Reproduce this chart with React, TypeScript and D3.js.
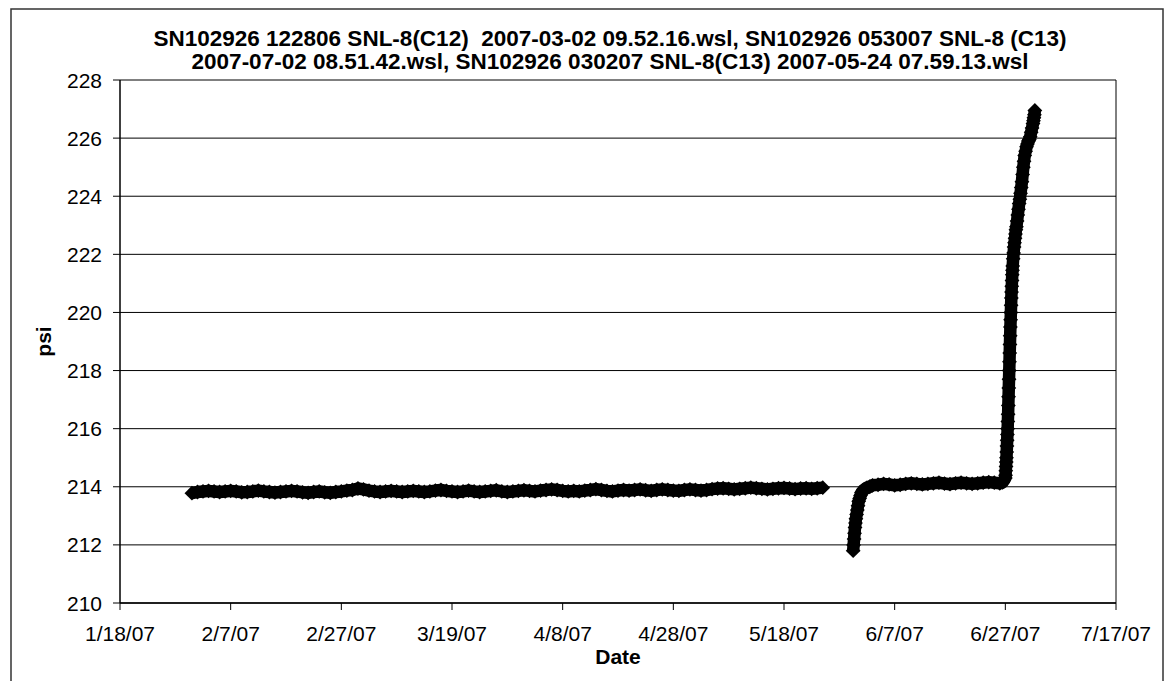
import React from "react";
import * as d3 from "d3";

const titleLines = [
  "SN102926 122806 SNL-8(C12)  2007-03-02 09.52.16.wsl, SN102926 053007 SNL-8 (C13)",
  "2007-07-02 08.51.42.wsl, SN102926 030207 SNL-8(C13) 2007-05-24 07.59.13.wsl",
];

const xTickDates = ["2007-01-18", "2007-02-07", "2007-02-27", "2007-03-19", "2007-04-08", "2007-04-28", "2007-05-18", "2007-06-07", "2007-06-27", "2007-07-17"];
const yTicks = [210, 212, 214, 216, 218, 220, 222, 224, 226, 228];

// Series 1: daily readings 2007-01-31 .. 2007-05-25
const s1Start = "2007-01-31";
const s1Values = [
  213.78,
  // Feb
  213.82, 213.84, 213.86, 213.84, 213.82, 213.84, 213.86, 213.84, 213.81, 213.82, 213.84, 213.87, 213.84, 213.82, 213.8, 213.82,
  213.84, 213.86, 213.84, 213.81, 213.79, 213.82, 213.84, 213.81, 213.79, 213.82, 213.84, 213.87,
  // Mar
  213.89, 213.94, 213.91, 213.87, 213.84, 213.82, 213.84, 213.86, 213.84, 213.82, 213.84, 213.86, 213.84, 213.82, 213.84, 213.87,
  213.89, 213.86, 213.84, 213.82, 213.84, 213.87, 213.84, 213.82, 213.84, 213.86, 213.88, 213.84, 213.82, 213.84, 213.86,
  // Apr
  213.88, 213.86, 213.84, 213.87, 213.89, 213.91, 213.89, 213.86, 213.84, 213.86, 213.84, 213.87, 213.89, 213.92, 213.89,
  213.86, 213.84, 213.87, 213.89, 213.87, 213.89, 213.91, 213.88, 213.86, 213.89, 213.91, 213.89, 213.87, 213.86, 213.89,
  // May 1-25
  213.91, 213.89, 213.87, 213.89, 213.92, 213.94, 213.95, 213.93, 213.91, 213.93, 213.95, 213.97, 213.95, 213.93, 213.91,
  213.93, 213.95, 213.96, 213.94, 213.92, 213.94, 213.95, 213.93, 213.95, 213.97,
];

// Series 2: timestamped readings 2007-05-30 .. 2007-07-02
const s2Times = [
  "2007-05-30T12:00", "2007-05-30T14:00", "2007-05-30T16:00", "2007-05-30T18:00", "2007-05-30T20:00", "2007-05-30T22:00",
  "2007-05-31T00:00", "2007-05-31T03:00", "2007-05-31T06:00", "2007-05-31T09:00", "2007-05-31T12:00", "2007-05-31T16:00",
  "2007-05-31T20:00", "2007-06-01T00:00", "2007-06-01T08:00", "2007-06-01T16:00", "2007-06-02T00:00", "2007-06-02T12:00",
  "2007-06-03T00:00", "2007-06-04T00:00", "2007-06-05T00:00", "2007-06-06T00:00", "2007-06-07T00:00", "2007-06-08T00:00",
  "2007-06-09T00:00", "2007-06-10T00:00", "2007-06-11T00:00", "2007-06-12T00:00", "2007-06-13T00:00", "2007-06-14T00:00",
  "2007-06-15T00:00", "2007-06-16T00:00", "2007-06-17T00:00", "2007-06-18T00:00", "2007-06-19T00:00", "2007-06-20T00:00",
  "2007-06-21T00:00", "2007-06-22T00:00", "2007-06-23T00:00", "2007-06-24T00:00", "2007-06-25T00:00", "2007-06-26T00:00",
  "2007-06-26T12:00",
  "2007-06-27T00:00", "2007-06-27T01:00", "2007-06-27T02:00", "2007-06-27T03:00", "2007-06-27T04:00", "2007-06-27T05:00",
  "2007-06-27T06:00", "2007-06-27T07:00", "2007-06-27T08:00", "2007-06-27T09:00", "2007-06-27T10:00", "2007-06-27T11:00",
  "2007-06-27T12:00", "2007-06-27T13:00", "2007-06-27T14:00", "2007-06-27T15:00", "2007-06-27T16:00", "2007-06-27T17:00",
  "2007-06-27T18:00", "2007-06-27T19:00", "2007-06-27T20:00", "2007-06-27T21:00", "2007-06-27T22:00", "2007-06-27T23:00",
  "2007-06-28T00:00", "2007-06-28T01:00", "2007-06-28T02:00", "2007-06-28T03:00", "2007-06-28T04:00", "2007-06-28T05:00",
  "2007-06-28T06:00", "2007-06-28T07:00", "2007-06-28T08:00", "2007-06-28T10:00", "2007-06-28T12:00", "2007-06-28T14:00",
  "2007-06-28T16:00", "2007-06-28T18:00", "2007-06-28T20:00", "2007-06-28T22:00", "2007-06-29T00:00", "2007-06-29T03:00",
  "2007-06-29T06:00", "2007-06-29T09:00", "2007-06-29T12:00", "2007-06-29T15:00", "2007-06-29T18:00", "2007-06-29T21:00",
  "2007-06-30T00:00", "2007-06-30T03:00", "2007-06-30T06:00", "2007-06-30T09:00", "2007-06-30T12:00", "2007-06-30T16:00",
  "2007-06-30T20:00", "2007-07-01T00:00", "2007-07-01T04:00", "2007-07-01T08:00", "2007-07-01T12:00", "2007-07-01T16:00",
  "2007-07-01T20:00", "2007-07-02T00:00", "2007-07-02T02:00", "2007-07-02T04:00", "2007-07-02T06:00", "2007-07-02T08:00",
];
const s2Values = [
  211.8, 212.0, 212.2, 212.4, 212.6, 212.75,
  212.9, 213.05, 213.2, 213.35, 213.5, 213.6,
  213.7, 213.8, 213.88, 213.93, 213.97, 214.0,
  214.05, 214.07, 214.1, 214.08, 214.05, 214.07,
  214.1, 214.12, 214.1, 214.08, 214.1, 214.12,
  214.14, 214.11, 214.09, 214.12, 214.14, 214.12,
  214.1, 214.12, 214.14, 214.16, 214.14, 214.12,
  214.15,
  214.3, 214.4, 214.55, 214.7, 214.85, 215.0,
  215.2, 215.4, 215.6, 215.8, 216.0, 216.25,
  216.5, 216.8, 217.1, 217.4, 217.7, 218.0,
  218.3, 218.6, 218.9, 219.2, 219.5, 219.75,
  220.0, 220.25, 220.5, 220.7, 220.9, 221.1,
  221.3, 221.45, 221.6, 221.85, 222.05, 222.25,
  222.4, 222.55, 222.7, 222.85, 222.95, 223.15,
  223.35, 223.55, 223.75, 223.9, 224.1, 224.3,
  224.5, 224.75, 225.0, 225.2, 225.4, 225.55,
  225.7, 225.8, 225.9, 225.95, 226.05, 226.2,
  226.35, 226.5, 226.6, 226.7, 226.8, 226.95,
];

const W = 1165;
const H = 681;
const M = { left: 120, right: 1116, top: 80, bottom: 603 };
const FONT = "'Liberation Sans', Arial, sans-serif";

export default function App() {
  const parseDay = d3.timeParse("%Y-%m-%d");
  const parseTime = d3.timeParse("%Y-%m-%dT%H:%M");
  const x = d3
    .scaleTime()
    .domain([parseDay(xTickDates[0])!, parseDay(xTickDates[xTickDates.length - 1])!])
    .range([M.left, M.right]);
  const y = d3.scaleLinear().domain([210, 228]).range([M.bottom, M.top]);
  const fmt = (d: Date) => `${d.getMonth() + 1}/${d.getDate()}/${String(d.getFullYear()).slice(2)}`;

  const s1Start0 = parseDay(s1Start)!;
  const pts1 = s1Values.map((v, i) => ({ t: d3.timeDay.offset(s1Start0, i), v }));
  const pts2 = s2Values.map((v, i) => ({ t: parseTime(s2Times[i])!, v }));
  const all = [...pts1, ...pts2];

  const diamond = d3.symbol().type(d3.symbolDiamond2).size(140)()!;
  const line = d3
    .line<{ t: Date; v: number }>()
    .x((d) => x(d.t))
    .y((d) => y(d.v));

  return (
    <svg width={W} height={H} style={{ display: "block", position: "absolute", left: 0, top: 0 }}>
      <rect x={0} y={0} width={W} height={H} fill="#fff" />
      <rect x={11} y={9} width={1152} height={H + 10} fill="none" stroke="#333" strokeWidth={1.5} />
      {titleLines.map((t, i) => (
        <text
          key={i}
          x={(M.left + M.right) / 2 - 8}
          y={46 + i * 23}
          textAnchor="middle"
          fontFamily={FONT}
          fontWeight="bold"
          fontSize={22.5}
          style={{ whiteSpace: "pre" }}
        >
          {t}
        </text>
      ))}
      {/* gridlines */}
      {yTicks.map((t) => (
        <line key={t} x1={M.left} x2={M.right} y1={y(t)} y2={y(t)} stroke="#000" strokeWidth={1} />
      ))}
      <line x1={M.right} x2={M.right} y1={M.top} y2={M.bottom} stroke="#000" strokeWidth={1} />
      {/* axes */}
      <line x1={M.left} x2={M.left} y1={M.top} y2={M.bottom} stroke="#000" strokeWidth={1.5} />
      <line x1={M.left} x2={M.right} y1={M.bottom} y2={M.bottom} stroke="#000" strokeWidth={1.5} />
      {yTicks.map((t) => (
        <g key={t}>
          <line x1={M.left - 7} x2={M.left} y1={y(t)} y2={y(t)} stroke="#000" strokeWidth={1} />
          <text x={102} y={y(t)} dy="0.36em" textAnchor="end" fontFamily={FONT} fontSize={21}>
            {t}
          </text>
        </g>
      ))}
      {xTickDates.map((s) => {
        const d = parseDay(s)!;
        return (
          <g key={s}>
            <line x1={x(d)} x2={x(d)} y1={M.bottom} y2={M.bottom + 7} stroke="#000" strokeWidth={1} />
            <text x={x(d)} y={641} textAnchor="middle" fontFamily={FONT} fontSize={21}>
              {fmt(d)}
            </text>
          </g>
        );
      })}
      <text x={(M.left + M.right) / 2} y={664} textAnchor="middle" fontFamily={FONT} fontWeight="bold" fontSize={21}>
        Date
      </text>
      <text transform={`translate(51,${(M.top + M.bottom) / 2}) rotate(-90)`} textAnchor="middle" fontFamily={FONT} fontWeight="bold" fontSize={21}>
        psi
      </text>
      {/* markers */}
      {[pts1, pts2].map((pts, k) => (
        <path key={k} d={line(pts)!} fill="none" stroke="#000" strokeWidth={12.5} strokeLinejoin="round" />
      ))}
      {all.map((p, i) => (
        <path key={i} d={diamond} transform={`translate(${x(p.t)},${y(p.v)})`} fill="#000" />
      ))}
    </svg>
  );
}
